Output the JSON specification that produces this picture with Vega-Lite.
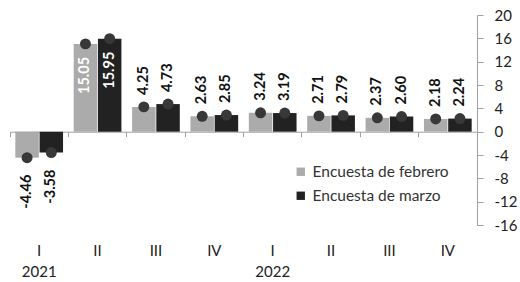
{
  "$schema": "https://vega.github.io/schema/vega-lite/v6.json",
  "width": 467,
  "height": 210,
  "autosize": {"type": "none"},
  "padding": {"left": 10, "top": 15, "right": 43, "bottom": 57},
  "config": {
    "font": "Lato",
    "view": {"stroke": null},
    "locale": {"number": {"decimal": ".", "thousands": ",", "grouping": [3], "currency": ["$", ""], "minus": "-"}}
  },
  "data": {
    "values": [
      {"periodo": "2021-I", "encuesta": "Encuesta de febrero", "valor": -4.46},
      {"periodo": "2021-I", "encuesta": "Encuesta de marzo", "valor": -3.58},
      {"periodo": "2021-II", "encuesta": "Encuesta de febrero", "valor": 15.05},
      {"periodo": "2021-II", "encuesta": "Encuesta de marzo", "valor": 15.95},
      {"periodo": "2021-III", "encuesta": "Encuesta de febrero", "valor": 4.25},
      {"periodo": "2021-III", "encuesta": "Encuesta de marzo", "valor": 4.73},
      {"periodo": "2021-IV", "encuesta": "Encuesta de febrero", "valor": 2.63},
      {"periodo": "2021-IV", "encuesta": "Encuesta de marzo", "valor": 2.85},
      {"periodo": "2022-I", "encuesta": "Encuesta de febrero", "valor": 3.24},
      {"periodo": "2022-I", "encuesta": "Encuesta de marzo", "valor": 3.19},
      {"periodo": "2022-II", "encuesta": "Encuesta de febrero", "valor": 2.71},
      {"periodo": "2022-II", "encuesta": "Encuesta de marzo", "valor": 2.79},
      {"periodo": "2022-III", "encuesta": "Encuesta de febrero", "valor": 2.37},
      {"periodo": "2022-III", "encuesta": "Encuesta de marzo", "valor": 2.60},
      {"periodo": "2022-IV", "encuesta": "Encuesta de febrero", "valor": 2.18},
      {"periodo": "2022-IV", "encuesta": "Encuesta de marzo", "valor": 2.24}
    ]
  },
  "encoding": {
    "x": {
      "field": "periodo",
      "type": "nominal",
      "sort": null,
      "scale": {"paddingInner": 0, "paddingOuter": 0},
      "axis": {
        "title": null,
        "offset": -93.3,
        "domainColor": "#a0a0a0",
        "tickColor": "#a0a0a0",
        "tickSize": 5,
        "bandPosition": 0,
        "labelAngle": 0,
        "labelFontSize": 15,
        "labelColor": "#222222",
        "labelPadding": 107,
        "labelLineHeight": 21,
        "labelExpr": "datum.value == '2021-I' ? ['I', '2021'] : datum.value == '2022-I' ? ['I', '2022'] : split(datum.value, '-')[1]"
      }
    },
    "xOffset": {
      "field": "encuesta",
      "type": "nominal",
      "scale": {"paddingInner": 0.03, "paddingOuter": 0.22}
    },
    "y": {
      "field": "valor",
      "type": "quantitative",
      "scale": {"domain": [-16, 20], "nice": false, "zero": false},
      "axis": {
        "orient": "right",
        "title": null,
        "grid": false,
        "values": [-16, -12, -8, -4, 0, 4, 8, 12, 16, 20],
        "domainColor": "#a0a0a0",
        "tickColor": "#a0a0a0",
        "tickSize": 6,
        "labelFontSize": 15,
        "labelColor": "#222222",
        "labelPadding": 11
      }
    }
  },
  "layer": [
    {
      "mark": {"type": "bar", "strokeWidth": 0},
      "encoding": {
        "color": {
          "field": "encuesta",
          "type": "nominal",
          "scale": {"domain": ["Encuesta de febrero", "Encuesta de marzo"], "range": ["#ababab", "#222222"]},
          "legend": {
            "title": null,
            "orient": "none",
            "legendX": 283,
            "legendY": 149,
            "symbolType": "square",
            "symbolSize": 70,
            "symbolStrokeWidth": 0,
            "labelFontSize": 15.5,
            "labelColor": "#333333",
            "rowPadding": 7,
            "labelOffset": 4
          }
        }
      }
    },
    {
      "mark": {"type": "circle", "size": 120, "opacity": 1, "color": "#383838"}
    },
    {
      "transform": [{"filter": "datum.valor >= 0 && datum.valor < 10"}],
      "mark": {"type": "text", "angle": 270, "align": "left", "baseline": "middle", "dx": 12, "fontSize": 14.5, "fontWeight": "bold", "color": "#111111"},
      "encoding": {"text": {"field": "valor", "type": "quantitative", "format": ".2f"}}
    },
    {
      "transform": [{"filter": "datum.valor >= 10"}],
      "mark": {"type": "text", "angle": 270, "align": "right", "baseline": "middle", "dx": -13, "fontSize": 14.5, "fontWeight": "bold", "color": "#ffffff"},
      "encoding": {"text": {"field": "valor", "type": "quantitative", "format": ".2f"}}
    },
    {
      "transform": [{"filter": "datum.valor < 0"}],
      "mark": {"type": "text", "angle": 270, "align": "right", "baseline": "middle", "dx": -17, "fontSize": 14.5, "fontWeight": "bold", "color": "#111111"},
      "encoding": {"text": {"field": "valor", "type": "quantitative", "format": ".2f"}}
    }
  ]
}
